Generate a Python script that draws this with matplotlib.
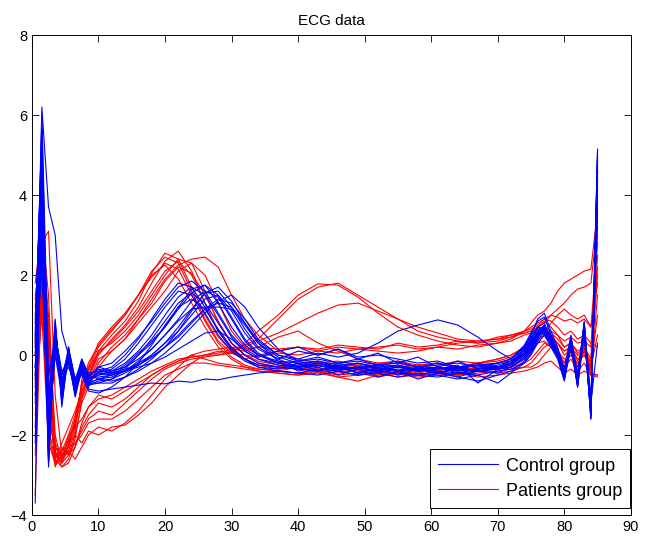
import matplotlib
matplotlib.use("Agg")
import matplotlib.pyplot as plt
from matplotlib.lines import Line2D

plt.rcParams['font.family'] = ['Liberation Sans', 'DejaVu Sans']

# sample positions (dense at both ends, coarser in the flat middle)
t = [0.5, 1.5, 2.5, 3.5, 4.5, 5.5, 6.5, 7.5, 8.5,
     10, 12, 14, 16, 18, 20, 22, 24, 26, 28, 30, 32, 34,
     37, 40, 43, 46, 49, 52, 55, 58, 61, 64, 67, 70,
     72, 74,
     75, 76, 77, 78, 79, 80, 81, 82, 83, 84, 85]

# control group traces
control = [
    [-0.5, 6.2, 3.7, 3.0, 0.6, 0.0, -0.8, -0.3, -0.6,
     -0.5, -0.4, -0.2, 0.1, 0.5, 1.0, 1.45, 1.7, 1.5, 1.0, 0.45, 0.1, -0.1,
     -0.2, -0.3, -0.2, -0.35, -0.3, -0.4, -0.3, -0.35, -0.45, -0.3, -0.4, -0.3,
     -0.25, 0.0,
     0.2, 0.5, 0.65, 0.3, 0.0, -0.5, 0.35, -0.6, 0.7, -1.2, 5.1],
    [-3.7, 5.0, -2.8, 0.8, -1.2, 0.2, -1.0, -0.3, -0.7,
     -0.4, -0.3, 0.0, 0.4, 0.9, 1.4, 1.8, 1.7, 1.2, 0.6, 0.15, -0.1, -0.25,
     -0.3, -0.35, -0.25, -0.4, -0.3, -0.45, -0.35, -0.4, -0.3, -0.45, -0.35, -0.3,
     -0.2, 0.1,
     0.35, 0.7, 0.8, 0.4, 0.1, -0.6, 0.45, -0.75, 0.8, -1.6, 4.8],
    [0.3, 5.5, -2.5, 0.6, -0.9, 0.0, -0.7, -0.1, -0.5,
     -0.6, -0.5, -0.3, 0.0, 0.3, 0.7, 1.2, 1.65, 1.75, 1.3, 0.7, 0.25, 0.0,
     -0.15, -0.2, -0.3, -0.25, -0.35, -0.3, -0.4, -0.35, -0.3, -0.4, -0.35, -0.25,
     -0.15, 0.05,
     0.3, 0.55, 0.7, 0.35, 0.05, -0.45, 0.3, -0.7, 0.65, -1.5, 4.2],
    [0.8, 3.5, -2.0, 0.3, -0.6, -0.2, -0.9, -0.4, -0.8,
     -0.3, -0.4, -0.3, -0.1, 0.15, 0.5, 0.9, 1.35, 1.6, 1.45, 0.9, 0.35, 0.0,
     -0.2, -0.25, -0.15, -0.3, -0.2, -0.35, -0.25, -0.4, -0.3, -0.35, -0.25, -0.35,
     -0.2, 0.15,
     0.4, 0.6, 0.55, 0.25, -0.05, -0.55, 0.2, -0.65, 0.55, -1.3, 3.8],
    [-1.0, 2.8, -2.7, 0.9, -1.3, 0.15, -0.6, -0.25, -0.55,
     -0.55, -0.5, -0.4, -0.2, 0.0, 0.3, 0.6, 1.0, 1.4, 1.5, 1.1, 0.55, 0.15,
     -0.1, -0.3, -0.2, -0.3, -0.35, -0.25, -0.3, -0.4, -0.35, -0.3, -0.4, -0.35,
     -0.3, -0.05,
     0.15, 0.45, 0.6, 0.5, 0.1, -0.4, 0.4, -0.55, 0.75, -1.4, 5.0],
    [0.0, 5.8, -1.0, 0.5, -0.8, -0.1, -1.05, -0.35, -0.75,
     -0.7, -0.6, -0.35, 0.0, 0.4, 0.85, 1.3, 1.55, 1.3, 0.8, 0.3, 0.0, -0.2,
     -0.3, -0.35, -0.4, -0.3, -0.45, -0.35, -0.4, -0.5, -0.4, -0.45, -0.4, -0.35,
     -0.3, -0.1,
     0.1, 0.4, 0.75, 0.45, 0.0, -0.6, 0.3, -0.8, 0.7, -1.55, 4.6],
    [-2.2, 4.2, -2.2, 0.2, -0.5, 0.05, -0.8, -0.15, -0.45,
     -0.4, -0.45, -0.35, -0.25, -0.05, 0.2, 0.45, 0.8, 1.15, 1.4, 1.3, 0.9, 0.4,
     0.0, -0.15, -0.1, -0.2, -0.15, -0.25, -0.2, -0.3, -0.25, -0.2, -0.3, -0.2,
     -0.1, 0.2,
     0.45, 0.65, 0.5, 0.3, 0.0, -0.5, 0.25, -0.6, 0.6, -1.2, 0.3],
    [0.5, 3.0, -2.6, 0.7, -1.1, 0.2, -0.9, -0.3, -0.65,
     -0.5, -0.45, -0.25, 0.05, 0.35, 0.7, 1.15, 1.55, 1.75, 1.5, 0.95, 0.4, 0.05,
     -0.2, -0.3, -0.25, -0.35, -0.3, -0.4, -0.3, -0.35, -0.45, -0.35, -0.4, -0.3,
     -0.25, 0.0,
     0.3, 0.6, 0.75, 0.4, 0.05, -0.55, 0.4, -0.7, 0.8, -1.45, 4.9],
    [-0.8, 6.0, -0.5, 0.4, -0.7, -0.15, -0.75, -0.45, -0.85,
     -0.9, -0.85, -0.8, -0.75, -0.7, -0.72, -0.65, -0.68, -0.6, -0.62, -0.55, -0.5, -0.45,
     -0.4, -0.45, -0.35, -0.4, -0.5, -0.4, -0.45, -0.5, -0.55, -0.45, -0.5, -0.4,
     -0.35, -0.2,
     0.0, 0.3, 0.5, 0.2, -0.1, -0.65, 0.2, -0.8, 0.5, -1.5, 4.4],
    [0.2, 2.5, -1.8, 0.0, -1.0, 0.1, -0.85, -0.2, -0.6,
     -0.45, -0.5, -0.4, -0.25, -0.05, 0.2, 0.5, 0.85, 1.15, 1.3, 1.2, 0.8, 0.35,
     0.0, -0.1, 0.05, -0.05, 0.05, 0.3, 0.6, 0.75, 0.88, 0.75, 0.45, 0.1,
     -0.1, 0.2,
     0.5, 0.9, 1.05, 0.6, 0.2, -0.35, 0.45, -0.5, 0.7, -1.1, 3.5],
    [-0.3, 4.5, -2.4, 0.6, -0.6, -0.3, -0.7, -0.5, -0.9,
     -0.95, -0.8, -0.55, -0.2, 0.25, 0.75, 1.2, 1.4, 1.15, 0.65, 0.2, -0.1, -0.3,
     -0.4, -0.45, -0.5, -0.4, -0.5, -0.45, -0.55, -0.45, -0.5, -0.6, -0.5, -0.7,
     -0.45, -0.2,
     0.05, 0.35, 0.6, 0.3, -0.05, -0.6, 0.3, -0.75, 0.65, -1.6, 5.15],
    [-1.2, 3.8, -1.2, 0.85, -1.2, 0.0, -1.0, -0.3, -0.7,
     -0.6, -0.55, -0.4, -0.15, 0.15, 0.5, 0.85, 1.15, 1.2, 1.2, 1.15, 0.75, 0.3,
     -0.05, -0.2, -0.15, -0.25, -0.2, -0.3, -0.25, -0.35, -0.3, -0.4, -0.35, -0.3,
     -0.2, 0.05,
     0.25, 0.5, 0.7, 0.45, 0.1, -0.45, 0.35, -0.65, 0.75, -1.35, 4.7],
    [0.6, 5.2, -2.0, 0.1, -0.9, 0.1, -0.65, -0.1, -0.5,
     -0.35, -0.45, -0.4, -0.3, -0.2, -0.05, 0.15, 0.35, 0.55, 0.6, 0.4, 0.1, -0.1,
     -0.25, -0.3, -0.2, -0.35, -0.3, -0.25, -0.4, -0.3, -0.35, -0.25, -0.7, -0.35,
     -0.25, 0.05,
     0.3, 0.55, 0.6, 0.3, 0.0, -0.5, 0.3, -0.7, 0.6, -1.4, 4.0],
    [-0.3, 2.2, -2.0, 0.5, -0.4, -0.2, -0.95, -0.4, -0.75,
     -0.65, -0.6, -0.45, -0.25, 0.0, 0.3, 0.7, 1.15, 1.55, 1.6, 1.2, 0.65, 0.2,
     -0.1, 0.1, 0.0, 0.15, -0.05, 0.0, -0.1, -0.2, -0.15, -0.3, -0.25, -0.2,
     -0.1, 0.2,
     0.5, 0.7, 0.6, 0.35, 0.0, -0.5, 0.4, -0.6, 0.85, -1.3, 4.5],
    [0.9, 4.8, -1.5, 0.3, -0.7, 0.2, -0.6, -0.2, -0.55,
     -0.3, -0.2, 0.1, 0.45, 0.85, 1.3, 1.7, 1.85, 1.6, 1.05, 0.5, 0.15, -0.05,
     0.1, 0.2, 0.0, 0.15, -0.1, 0.05, -0.2, -0.05, -0.3, -0.15, -0.35, -0.2,
     -0.1, 0.25,
     0.55, 0.85, 0.95, 0.5, 0.15, -0.4, 0.5, -0.55, 0.8, -1.25, 4.3],
    [-1.8, 3.3, -2.3, 0.4, -1.0, -0.05, -0.9, -0.35, -0.7,
     -0.7, -0.7, -0.55, -0.35, -0.1, 0.2, 0.6, 1.1, 1.55, 1.7, 1.35, 0.8, 0.3,
     -0.15, -0.4, -0.3, -0.5, -0.35, -0.55, -0.4, -0.6, -0.45, -0.55, -0.65, -0.5,
     -0.4, -0.15,
     0.1, 0.45, 0.7, 0.4, 0.0, -0.6, 0.35, -0.75, 0.7, -1.5, 4.9],
    [0.4, 5.6, -2.7, 0.7, -0.85, 0.1, -0.75, -0.25, -0.6,
     -0.45, -0.35, -0.1, 0.3, 0.75, 1.2, 1.6, 1.5, 1.05, 0.5, 0.1, -0.15, -0.3,
     -0.35, -0.2, -0.4, -0.25, -0.45, -0.3, -0.5, -0.35, -0.4, -0.55, -0.4, -0.45,
     -0.3, -0.05,
     0.2, 0.5, 0.7, 0.4, 0.05, -0.5, 0.4, -0.7, 0.75, -1.45, 4.6],
    [-0.6, 4.0, -1.6, 0.55, -0.5, 0.0, -0.8, -0.4, -0.7,
     -0.6, -0.65, -0.55, -0.4, -0.2, 0.05, 0.35, 0.7, 1.05, 1.35, 1.5, 1.2, 0.7,
     0.15, -0.15, -0.05, -0.2, -0.1, -0.25, -0.15, -0.3, -0.2, -0.35, -0.2, -0.3,
     -0.15, 0.15,
     0.4, 0.7, 0.65, 0.35, 0.05, -0.45, 0.35, -0.6, 0.7, -1.35, 4.4],
]

# patients group traces
patients = [
    [0.5, 2.0, 0.5, -2.6, -2.4, -2.0, -1.5, -0.8, -0.4,
     0.1, 0.5, 0.85, 1.35, 2.05, 2.55, 2.4, 1.7, 1.0, 0.45, 0.1, -0.1, -0.25,
     -0.3, -0.35, -0.4, -0.3, -0.45, -0.4, -0.5, -0.4, -0.45, -0.5, -0.4, -0.35,
     -0.3, -0.2,
     -0.1, 0.1, 0.3, 0.2, 0.0, -0.3, 0.1, -0.4, 0.2, -0.5, 1.5],
    [1.8, 3.2, 1.5, -2.5, -2.7, -2.2, -1.7, -1.0, -0.6,
     0.0, 0.4, 0.75, 1.2, 1.8, 2.35, 2.6, 2.1, 1.3, 0.6, 0.15, -0.1, -0.25,
     -0.35, -0.3, -0.4, -0.45, -0.35, -0.4, -0.45, -0.35, -0.4, -0.3, -0.35, -0.3,
     -0.2, 0.0,
     0.2, 0.4, 0.5, 0.35, 0.1, -0.2, 0.2, -0.3, 0.3, -0.4, 3.65],
    [-0.5, 1.5, -1.0, -2.7, -2.5, -2.4, -1.9, -0.6, -0.3,
     0.3, 0.7, 1.05, 1.5, 1.95, 2.3, 2.15, 1.5, 0.85, 0.3, -0.05, -0.25, -0.35,
     -0.4, -0.45, -0.4, -0.5, -0.45, -0.55, -0.45, -0.5, -0.4, -0.5, -0.45, -0.4,
     -0.35, -0.3,
     -0.2, 0.0, 0.2, 0.3, 0.1, -0.2, 0.0, -0.3, 0.1, -0.45, -0.5],
    [1.0, 2.5, 0.8, -2.2, -2.6, -2.1, -1.6, -0.9, -0.5,
     0.1, 0.3, 0.6, 1.0, 1.5, 2.0, 2.4, 2.3, 1.6, 0.8, 0.3, 0.0, -0.2,
     -0.3, -0.25, -0.35, -0.3, -0.4, -0.35, -0.3, -0.25, -0.35, -0.3, -0.2, -0.1,
     0.0, 0.2,
     0.35, 0.55, 0.7, 0.6, 0.5, 0.2, 0.3, 0.1, 0.2, -0.1, 3.2],
    [0.0, 1.8, -0.5, -2.8, -2.3, -2.5, -2.0, -1.2, -0.8,
     -0.2, 0.2, 0.5, 0.9, 1.3, 1.85, 2.2, 2.05, 1.5, 0.85, 0.3, 0.0, -0.15,
     -0.25, -0.3, -0.2, -0.3, -0.25, -0.35, -0.3, -0.4, -0.3, -0.35, -0.25, -0.3,
     -0.2, 0.05,
     0.3, 0.5, 0.6, 0.45, 0.3, 0.0, 0.15, -0.15, 0.1, -0.3, 2.5],
    [1.2, 2.8, 3.1, -1.0, -2.5, -2.3, -1.8, -0.7, -0.35,
     0.2, 0.6, 1.0, 1.5, 2.0, 2.25, 1.9, 1.3, 0.7, 0.2, -0.1, -0.3, -0.4,
     -0.45, -0.5, -0.45, -0.55, -0.5, -0.45, -0.55, -0.5, -0.45, -0.5, -0.4, -0.45,
     -0.4, -0.3,
     -0.3, -0.2, 0.0, 0.2, 0.1, -0.1, 0.0, -0.2, 0.0, -0.3, 1.0],
    [-1.5, 1.2, -1.5, -2.4, -2.8, -2.6, -2.1, -1.1, -0.7,
     -0.1, 0.1, 0.4, 0.8, 1.2, 1.6, 2.1, 2.3, 2.0, 1.3, 0.6, 0.2, 0.0,
     -0.2, -0.15, -0.25, -0.2, -0.3, -0.25, -0.2, -0.3, -0.25, -0.15, -0.2, -0.1,
     0.0, 0.15,
     0.3, 0.45, 0.6, 0.8, 1.0, 1.15, 1.0, 0.9, 1.0, 0.7, 2.8],
    [-3.5, 2.2, 0.0, -2.6, -2.2, -1.8, -1.4, -0.9, -0.6,
     -0.3, 0.1, 0.4, 0.9, 1.4, 1.9, 2.25, 2.4, 2.45, 2.2, 1.5, 0.9, 0.5,
     0.1, -0.1, -0.2, -0.15, -0.25, -0.2, -0.3, -0.25, -0.2, -0.3, -0.25, -0.2,
     -0.15, 0.0,
     0.1, 0.3, 0.5, 0.45, 0.3, 0.1, 0.2, 0.0, 0.1, -0.2, 2.0],
    [-2.0, 1.6, -2.0, -2.75, -2.6, -2.4, -2.6, -2.3, -2.0,
     -1.8, -1.9, -1.7, -1.4, -1.0, -0.6, -0.3, 0.0, 0.1, 0.15, 0.2, 0.15, 0.2,
     0.15, 0.2, 0.1, 0.2, 0.15, 0.2, 0.25, 0.15, 0.2, 0.3, 0.35, 0.4,
     0.45, 0.6,
     0.7, 0.8, 0.9, 0.85, 0.7, 0.5, 0.6, 0.4, 0.5, 0.3, 0.2],
    [0.3, 3.0, 1.0, -2.0, -2.7, -2.5, -2.3, -1.8, -1.5,
     -1.2, -1.3, -1.1, -0.8, -0.5, -0.3, -0.15, 0.0, -0.1, -0.2, -0.25, -0.3, -0.35,
     -0.4, -0.3, -0.45, -0.35, -0.4, -0.5, -0.4, -0.45, -0.35, -0.4, -0.3, -0.35,
     -0.3, -0.1,
     0.1, 0.3, 0.35, 0.2, 0.0, -0.3, -0.1, -0.4, -0.2, -0.5, -0.55],
    [0.8, 2.4, -0.8, -2.5, -2.4, -2.2, -2.0, -2.2, -1.9,
     -2.0, -1.8, -1.75, -1.5, -1.2, -0.8, -0.5, -0.2, 0.0, 0.1, 0.05, 0.0, -0.05,
     0.05, 0.0, 0.1, 0.05, 0.15, 0.1, 0.05, 0.1, 0.2, 0.15, 0.25, 0.3,
     0.35, 0.5,
     0.55, 0.65, 0.7, 0.5, 0.3, 0.1, 0.2, -0.1, 0.0, -0.3, 0.5],
    [-1.0, 1.0, -2.2, -2.7, -2.5, -2.3, -2.2, -1.9, -1.6,
     -1.4, -1.5, -1.2, -0.9, -0.6, -0.35, -0.2, -0.1, -0.05, 0.0, 0.05, 0.3, 0.6,
     1.0, 1.5, 1.78, 1.75, 1.45, 1.05, 0.7, 0.5, 0.35, 0.25, 0.2, 0.3,
     0.4, 0.6,
     0.8, 1.0, 1.1, 1.3, 1.6, 1.8, 1.9, 2.0, 2.1, 2.15, 3.6],
    [1.5, 2.6, 0.3, -2.3, -2.6, -2.0, -1.8, -1.6, -1.3,
     -1.0, -1.1, -0.9, -0.7, -0.5, -0.3, -0.15, -0.05, 0.0, 0.05, 0.15, 0.25, 0.4,
     0.9, 1.4, 1.7, 1.8, 1.5, 1.2, 0.9, 0.6, 0.45, 0.35, 0.3, 0.35,
     0.45, 0.55,
     0.6, 0.7, 0.8, 1.0, 1.15, 1.3, 1.5, 1.65, 1.7, 1.8, 3.3],
    [-0.3, 1.9, -1.2, -2.6, -2.8, -2.7, -2.3, -1.7, -1.3,
     -1.1, -1.0, -0.8, -0.6, -0.4, -0.25, -0.1, -0.05, 0.0, 0.0, 0.1, 0.2, 0.35,
     0.55, 0.8, 1.05, 1.25, 1.3, 1.1, 0.9, 0.7, 0.55, 0.4, 0.35, 0.4,
     0.5, 0.6,
     0.65, 0.75, 0.9, 1.0, 0.95, 0.85, 0.9, 0.8, 0.9, 0.7, 1.8],
    [1.4, 2.9, 0.2, -2.4, -2.7, -2.3, -1.6, -0.75, -0.2,
     0.25, 0.65, 1.0, 1.5, 2.1, 2.45, 2.3, 1.6, 0.9, 0.35, 0.05, -0.1, 0.0,
     0.1, 0.2, 0.15, 0.25, 0.2, 0.15, 0.3, 0.2, 0.25, 0.35, 0.3, 0.45,
     0.5, 0.55,
     0.6, 0.7, 0.85, 0.7, 0.5, 0.35, 0.45, 0.3, 0.35, 0.2, 3.0],
    [-2.5, 2.1, -1.8, -2.65, -2.55, -2.45, -2.2, -2.0, -1.7,
     -1.6, -1.6, -1.4, -1.1, -0.8, -0.5, -0.35, -0.2, -0.2, -0.25, -0.3, -0.35, -0.4,
     -0.45, -0.5, -0.4, -0.55, -0.65, -0.5, -0.45, -0.55, -0.5, -0.45, -0.55, -0.5,
     -0.45, -0.4,
     -0.35, -0.3, -0.2, -0.15, -0.3, -0.45, -0.35, -0.5, -0.4, -0.5, -0.5],
    [0.2, 2.3, 0.6, -2.3, -2.5, -2.15, -1.75, -1.05, -0.55,
     0.05, 0.35, 0.7, 1.1, 1.6, 2.1, 2.35, 2.0, 1.3, 0.6, 0.15, 0.1, 0.2,
     0.45, 0.6, 0.3, 0.1, -0.1, -0.2, -0.15, -0.25, -0.2, -0.3, -0.2, -0.15,
     -0.05, 0.1,
     0.25, 0.5, 0.65, 0.55, 0.4, 0.2, 0.3, 0.05, 0.15, -0.2, 2.2],
]

fig, ax = plt.subplots(figsize=(6.51, 5.41), dpi=100)
fig.subplots_adjust(left=0.049, right=0.969, bottom=0.048, top=0.935)

for row in patients:
    ax.plot(t, row, color='r', linewidth=0.8)
for row in control:
    ax.plot(t, row, color='b', linewidth=0.8)

ax.set_xlim(0, 90)
ax.set_ylim(-4, 8)
ax.set_xticks(range(0, 91, 10))
ax.set_yticks(range(-4, 9, 2))
ax.tick_params(direction='in', top=True, right=True, length=5,
               labelsize=10.5, width=0.6)
for spine in ax.spines.values():
    spine.set_linewidth(0.7)
ax.set_title("ECG data", fontsize=11, pad=7)

handles = [Line2D([], [], color='b', linewidth=0.8),
           Line2D([], [], color='r', linewidth=0.8)]
leg = ax.legend(handles, ['Control group', 'Patients group'],
                loc='lower right', bbox_to_anchor=(0.999, 0.015),
                borderaxespad=0, fancybox=False, edgecolor='k',
                framealpha=1, handlelength=3.3, fontsize=13,
                labelspacing=0.45, borderpad=0.45, handletextpad=0.45)
leg.get_frame().set_linewidth(0.7)

plt.savefig("out.png", dpi=100)
